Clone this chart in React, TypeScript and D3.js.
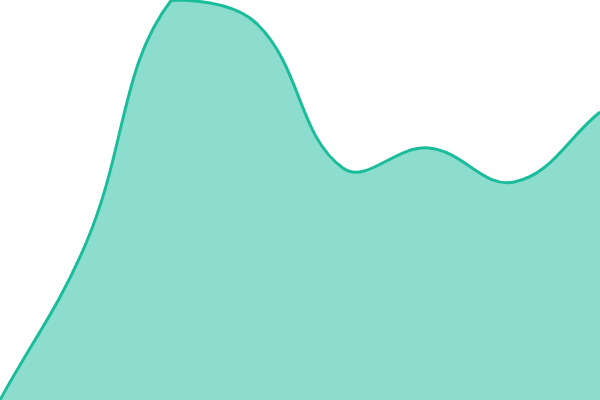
import * as d3 from "d3";

const labels = ["1", "2", "3", "4", "5", "6", "7", "8"];
const values = [0, 39, 100, 94, 58, 63, 54.5, 72];

const width = 600;
const height = 400;
const color = "#1abc9c";

// spline like Chart.js (tension + control points capped to the chart area)
function splineCurve(tension: number, x0: number, x1: number, y0: number, y1: number) {
  const cap = (v: number, lo: number, hi: number) => Math.max(Math.min(v, hi), lo);
  const inArea = (x: number, y: number) => x >= x0 - 0.5 && x <= x1 + 0.5 && y >= y0 - 0.5 && y <= y1 + 0.5;

  return function (context: any) {
    let xs: number[] = [];
    let ys: number[] = [];
    let line = NaN;
    return {
      areaStart() { line = 0; },
      areaEnd() { line = NaN; },
      lineStart() { xs = []; ys = []; },
      point(x: number, y: number) { xs.push(+x); ys.push(+y); },
      lineEnd() {
        const n = xs.length;
        if (n) {
          if (line) context.lineTo(xs[0], ys[0]);
          else context.moveTo(xs[0], ys[0]);
          const cp1x: number[] = [], cp1y: number[] = [], cp2x: number[] = [], cp2y: number[] = [];
          for (let i = 0; i < n; i++) {
            const pi = Math.max(i - 1, 0), ni = Math.min(i + 1, n - 1);
            const d01 = Math.hypot(xs[i] - xs[pi], ys[i] - ys[pi]);
            const d12 = Math.hypot(xs[ni] - xs[i], ys[ni] - ys[i]);
            let s01 = d01 / (d01 + d12);
            let s12 = d12 / (d01 + d12);
            if (isNaN(s01)) s01 = 0;
            if (isNaN(s12)) s12 = 0;
            const fa = tension * s01, fb = tension * s12;
            cp1x[i] = xs[i] - fa * (xs[ni] - xs[pi]);
            cp1y[i] = ys[i] - fa * (ys[ni] - ys[pi]);
            cp2x[i] = xs[i] + fb * (xs[ni] - xs[pi]);
            cp2y[i] = ys[i] + fb * (ys[ni] - ys[pi]);
          }
          for (let i = 0; i < n; i++) {
            if (!inArea(xs[i], ys[i])) continue;
            if (i > 0 && inArea(xs[i - 1], ys[i - 1])) {
              cp1x[i] = cap(cp1x[i], x0, x1);
              cp1y[i] = cap(cp1y[i], y0, y1);
            }
            if (i < n - 1 && inArea(xs[i + 1], ys[i + 1])) {
              cp2x[i] = cap(cp2x[i], x0, x1);
              cp2y[i] = cap(cp2y[i], y0, y1);
            }
          }
          for (let i = 0; i < n - 1; i++) {
            context.bezierCurveTo(cp2x[i], cp2y[i], cp1x[i + 1], cp1y[i + 1], xs[i + 1], ys[i + 1]);
          }
        }
        if (line || (line !== 0 && n === 1)) context.closePath();
        line = 1 - line;
      },
    };
  };
}

export default function App() {
  const x = d3.scalePoint<string>().domain(labels).range([0, width]);
  const y = d3.scaleLinear().domain([0, 100]).range([height, 0]);
  const curve = splineCurve(0.4, 0, width, 0, height) as any;

  const area = d3
    .area<number>()
    .x((_, i) => x(labels[i])!)
    .y0(height)
    .y1((d) => y(d))
    .curve(curve);

  const line = d3
    .line<number>()
    .x((_, i) => x(labels[i])!)
    .y((d) => y(d))
    .curve(curve);

  return (
    <svg
      width={width}
      height={height}
      style={{ position: "fixed", left: 0, top: 0, background: "#fff" }}
    >
      <defs>
        <clipPath id="plot">
          <rect x={0} y={0} width={width} height={height} />
        </clipPath>
      </defs>
      <g clipPath="url(#plot)">
        <path d={area(values) ?? ""} fill={color} fillOpacity={0.5} />
        <path d={line(values) ?? ""} fill="none" stroke={color} strokeWidth={3} strokeLinejoin="round" />
      </g>
    </svg>
  );
}
